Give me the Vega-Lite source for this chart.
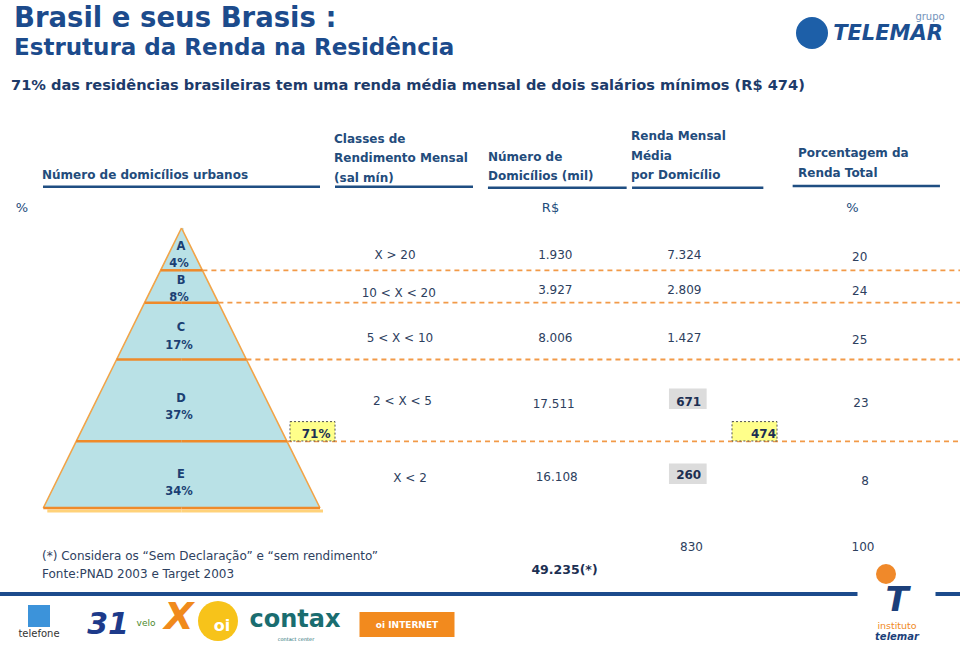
{
  "$schema": "https://vega.github.io/schema/vega-lite/v6.json",
  "width": 960,
  "height": 645,
  "padding": 0,
  "autosize": {"type": "none"},
  "background": "#ffffff",
  "config": {"view": {"stroke": null}},
  "resolve": {"scale": {"x": "independent", "y": "independent", "size": "independent", "color": "independent", "shape": "independent"}},
  "datasets": {
    "classes": [
      {"ordem": 1, "classe": "A", "domicilios_pct": "4%", "faixa": "X > 20", "domicilios": "1.930", "renda": "7.324", "renda_pct": 20},
      {"ordem": 2, "classe": "B", "domicilios_pct": "8%", "faixa": "10 < X < 20", "domicilios": "3.927", "renda": "2.809", "renda_pct": 24},
      {"ordem": 3, "classe": "C", "domicilios_pct": "17%", "faixa": "5 < X < 10", "domicilios": "8.006", "renda": "1.427", "renda_pct": 25},
      {"ordem": 4, "classe": "D", "domicilios_pct": "37%", "faixa": "2 < X < 5", "domicilios": "17.511", "renda": "671", "renda_pct": 23},
      {"ordem": 5, "classe": "E", "domicilios_pct": "34%", "faixa": "X < 2", "domicilios": "16.108", "renda": "260", "renda_pct": 8},
      {"ordem": 6, "classe": "Total", "domicilios_pct": null, "faixa": null, "domicilios": "49.235(*)", "renda": "830", "renda_pct": 100}
    ],
    "bordas": [
      {"borda": 0, "nome": "topo"},
      {"borda": 1, "nome": "A/B"},
      {"borda": 2, "nome": "B/C"},
      {"borda": 3, "nome": "C/D"},
      {"borda": 4, "nome": "D/E"},
      {"borda": 5, "nome": "base"}
    ],
    "destaques": [
      {"indice": 1, "rotulo": "71%", "referencia": "domicílios D + E"},
      {"indice": 2, "rotulo": "474", "referencia": "2 salários mínimos (R$)"}
    ],
    "titulos": [
      {"linha": 1, "texto": "Brasil e seus Brasis :"},
      {"linha": 2, "texto": "Estrutura da Renda na Residência"},
      {"linha": 3, "texto": "71% das residências brasileiras tem uma renda média mensal de dois salários mínimos (R$ 474)"}
    ],
    "cabecalhos": [
      {"coluna": 1, "titulo": "Número de domicílios urbanos"},
      {"coluna": 2, "titulo": "Classes de\nRendimento Mensal\n(sal mín)"},
      {"coluna": 3, "titulo": "Número de\nDomicílios (mil)"},
      {"coluna": 4, "titulo": "Renda Mensal\nMédia\npor Domicílio"},
      {"coluna": 5, "titulo": "Porcentagem da\n Renda Total"}
    ],
    "unidades": [
      {"coluna": 1, "unidade": "%"},
      {"coluna": 3, "unidade": "R$"},
      {"coluna": 5, "unidade": "%"}
    ],
    "notas": [
      {"linha": 1, "texto": "(*) Considera os “Sem Declaração” e “sem rendimento”"},
      {"linha": 2, "texto": "Fonte:PNAD 2003 e Target 2003"}
    ],
    "formas": [
      {"id": 1, "forma": "circulo", "logo": "grupo Telemar"},
      {"id": 2, "forma": "quadrado", "logo": "telefone telemar"},
      {"id": 3, "forma": "circulo", "logo": "oi"},
      {"id": 4, "forma": "retangulo", "logo": "oi internet"},
      {"id": 5, "forma": "faixa", "logo": "instituto telemar (fundo)"},
      {"id": 6, "forma": "circulo", "logo": "instituto telemar"}
    ],
    "marcas_italico": [
      {"id": 1, "texto": "TELEMAR"},
      {"id": 2, "texto": "31"},
      {"id": 3, "texto": "X"},
      {"id": 4, "texto": "telemar"},
      {"id": 5, "texto": "T"}
    ],
    "marcas_negrito": [
      {"id": 1, "texto": "contax"},
      {"id": 2, "texto": "oi"},
      {"id": 3, "texto": "oi INTERNET"}
    ],
    "marcas_normal": [
      {"id": 1, "texto": "grupo"},
      {"id": 2, "texto": "telefone"},
      {"id": 3, "texto": "velo"},
      {"id": 4, "texto": "instituto"},
      {"id": 5, "texto": "contact center"}
    ]
  },
  "layer": [
    {
      "data": {"name": "bordas"},
      "transform": [{"filter": "datum.borda >= 1 && datum.borda <= 4"}],
      "mark": {"type": "rule", "color": "#f29a48", "strokeWidth": 1.8, "strokeDash": [5, 4]},
      "encoding": {
        "x": {"field": "borda", "type": "quantitative", "axis": null, "scale": {"domain": [0, 1, 2, 3, 4, 5], "range": [181.5, 202.4, 218.4, 246.4, 287, 320], "nice": false, "zero": false}},
        "x2": {"value": "width"},
        "y": {"field": "borda", "type": "quantitative", "axis": null, "scale": {"domain": [0, 1, 2, 3, 4, 5], "range": [228, 270.3, 302.7, 359.5, 441.3, 508], "nice": false, "zero": false}}
      }
    },
    {
      "data": {"name": "bordas"},
      "transform": [{"filter": "datum.borda == 5"}],
      "mark": {"type": "rule", "color": "#ffd27a", "strokeWidth": 3, "yOffset": 3, "xOffset": 4},
      "encoding": {
        "x": {"field": "borda", "type": "quantitative", "axis": null, "scale": {"domain": [0, 1, 2, 3, 4, 5], "range": [181.5, 160.6, 144.6, 116.6, 76.2, 43.3], "nice": false, "zero": false}},
        "x2": {"datum": 0},
        "y": {"field": "borda", "type": "quantitative", "axis": null, "scale": {"domain": [0, 1, 2, 3, 4, 5], "range": [228, 270.3, 302.7, 359.5, 441.3, 508], "nice": false, "zero": false}}
      }
    },
    {
      "data": {"name": "bordas"},
      "transform": [{"filter": "datum.borda == 5"}],
      "mark": {"type": "rule", "color": "#ffd27a", "strokeWidth": 3, "yOffset": 3, "xOffset": 3},
      "encoding": {
        "x": {"field": "borda", "type": "quantitative", "axis": null, "scale": {"domain": [0, 1, 2, 3, 4, 5], "range": [181.5, 202.4, 218.4, 246.4, 287, 320], "nice": false, "zero": false}},
        "x2": {"datum": 0},
        "y": {"field": "borda", "type": "quantitative", "axis": null, "scale": {"domain": [0, 1, 2, 3, 4, 5], "range": [228, 270.3, 302.7, 359.5, 441.3, 508], "nice": false, "zero": false}}
      }
    },
    {
      "data": {"name": "bordas"},
      "mark": {"type": "area", "orient": "horizontal", "color": "#b9e1e6", "opacity": 1},
      "encoding": {
        "y": {"field": "borda", "type": "quantitative", "axis": null, "scale": {"domain": [0, 1, 2, 3, 4, 5], "range": [228, 270.3, 302.7, 359.5, 441.3, 508], "nice": false, "zero": false}},
        "x": {"field": "borda", "type": "quantitative", "stack": null, "axis": null, "scale": {"domain": [0, 1, 2, 3, 4, 5], "range": [181.5, 160.6, 144.6, 116.6, 76.2, 43.3], "nice": false, "zero": false}},
        "x2": {"datum": -0.1}
      }
    },
    {
      "data": {"name": "bordas"},
      "mark": {"type": "area", "orient": "horizontal", "color": "#b9e1e6", "opacity": 1},
      "encoding": {
        "y": {"field": "borda", "type": "quantitative", "axis": null, "scale": {"domain": [0, 1, 2, 3, 4, 5], "range": [228, 270.3, 302.7, 359.5, 441.3, 508], "nice": false, "zero": false}},
        "x": {"field": "borda", "type": "quantitative", "stack": null, "axis": null, "scale": {"domain": [0, 1, 2, 3, 4, 5], "range": [181.5, 202.4, 218.4, 246.4, 287, 320], "nice": false, "zero": false}},
        "x2": {"datum": 0}
      }
    },
    {
      "data": {"name": "bordas"},
      "mark": {"type": "line", "color": "#f2a448", "strokeWidth": 1.6},
      "encoding": {
        "x": {"field": "borda", "type": "quantitative", "axis": null, "scale": {"domain": [0, 1, 2, 3, 4, 5], "range": [181.5, 160.6, 144.6, 116.6, 76.2, 43.3], "nice": false, "zero": false}},
        "y": {"field": "borda", "type": "quantitative", "axis": null, "scale": {"domain": [0, 1, 2, 3, 4, 5], "range": [228, 270.3, 302.7, 359.5, 441.3, 508], "nice": false, "zero": false}},
        "order": {"field": "borda", "type": "quantitative"}
      }
    },
    {
      "data": {"name": "bordas"},
      "mark": {"type": "line", "color": "#f2a448", "strokeWidth": 1.6},
      "encoding": {
        "x": {"field": "borda", "type": "quantitative", "axis": null, "scale": {"domain": [0, 1, 2, 3, 4, 5], "range": [181.5, 202.4, 218.4, 246.4, 287, 320], "nice": false, "zero": false}},
        "y": {"field": "borda", "type": "quantitative", "axis": null, "scale": {"domain": [0, 1, 2, 3, 4, 5], "range": [228, 270.3, 302.7, 359.5, 441.3, 508], "nice": false, "zero": false}},
        "order": {"field": "borda", "type": "quantitative"}
      }
    },
    {
      "data": {"name": "bordas"},
      "transform": [{"filter": "datum.borda >= 1"}],
      "mark": {"type": "rule", "color": "#ef8a2a", "strokeWidth": 2.5},
      "encoding": {
        "x": {"field": "borda", "type": "quantitative", "axis": null, "scale": {"domain": [0, 1, 2, 3, 4, 5], "range": [181.5, 160.6, 144.6, 116.6, 76.2, 43.3], "nice": false, "zero": false}},
        "x2": {"datum": 0},
        "y": {"field": "borda", "type": "quantitative", "axis": null, "scale": {"domain": [0, 1, 2, 3, 4, 5], "range": [228, 270.3, 302.7, 359.5, 441.3, 508], "nice": false, "zero": false}}
      }
    },
    {
      "data": {"name": "bordas"},
      "transform": [{"filter": "datum.borda >= 1"}],
      "mark": {"type": "rule", "color": "#ef8a2a", "strokeWidth": 2.5},
      "encoding": {
        "x": {"field": "borda", "type": "quantitative", "axis": null, "scale": {"domain": [0, 1, 2, 3, 4, 5], "range": [181.5, 202.4, 218.4, 246.4, 287, 320], "nice": false, "zero": false}},
        "x2": {"datum": 0},
        "y": {"field": "borda", "type": "quantitative", "axis": null, "scale": {"domain": [0, 1, 2, 3, 4, 5], "range": [228, 270.3, 302.7, 359.5, 441.3, 508], "nice": false, "zero": false}}
      }
    },
    {
      "data": {"name": "classes"},
      "transform": [{"filter": "datum.ordem <= 5"}],
      "mark": {"type": "text", "font": "DejaVu Sans", "fontWeight": "bold", "fontSize": 11.5, "color": "#1b3f73", "align": "center", "baseline": "middle"},
      "encoding": {
        "x": {"field": "ordem", "type": "quantitative", "axis": null, "scale": {"domain": [1, 5], "range": [181, 181], "nice": false, "zero": false}},
        "y": {"field": "ordem", "type": "quantitative", "axis": null, "scale": {"domain": [1, 2, 3, 4, 5], "range": [247.3, 281.1, 328.3, 398.8, 475.3], "nice": false, "zero": false}},
        "text": {"field": "classe", "type": "nominal"}
      }
    },
    {
      "data": {"name": "classes"},
      "transform": [{"filter": "datum.ordem <= 5"}],
      "mark": {"type": "text", "font": "DejaVu Sans", "fontWeight": "bold", "fontSize": 11.5, "color": "#1b3f73", "align": "center", "baseline": "middle"},
      "encoding": {
        "x": {"field": "ordem", "type": "quantitative", "axis": null, "scale": {"domain": [1, 5], "range": [179, 179], "nice": false, "zero": false}},
        "y": {"field": "ordem", "type": "quantitative", "axis": null, "scale": {"domain": [1, 2, 3, 4, 5], "range": [264.3, 298.1, 345.5, 416.1, 492.1], "nice": false, "zero": false}},
        "text": {"field": "domicilios_pct", "type": "nominal"}
      }
    },
    {
      "data": {"name": "destaques"},
      "mark": {"type": "point", "shape": "M-1,-0.43L1,-0.43L1,0.43L-1,0.43Z", "size": 2025, "filled": true, "fill": "#ffff8a", "stroke": "#505050", "strokeWidth": 1, "strokeDash": [2, 2], "opacity": 1},
      "encoding": {
        "x": {"field": "indice", "type": "quantitative", "axis": null, "scale": {"domain": [1, 2], "range": [312.5, 754.5], "nice": false, "zero": false}},
        "y": {"field": "indice", "type": "quantitative", "axis": null, "scale": {"domain": [1, 2], "range": [431.3, 431.3], "nice": false, "zero": false}}
      }
    },
    {
      "data": {"name": "destaques"},
      "mark": {"type": "text", "font": "DejaVu Sans", "fontWeight": "bold", "fontSize": 12, "color": "#1c2f52", "align": "right", "baseline": "middle"},
      "encoding": {
        "x": {"field": "indice", "type": "quantitative", "axis": null, "scale": {"domain": [1, 2], "range": [330.5, 776], "nice": false, "zero": false}},
        "y": {"field": "indice", "type": "quantitative", "axis": null, "scale": {"domain": [1, 2], "range": [434, 434], "nice": false, "zero": false}},
        "text": {"field": "rotulo", "type": "nominal"}
      }
    },
    {
      "data": {"name": "classes"},
      "transform": [{"filter": "datum.ordem >= 4 && datum.ordem <= 5"}],
      "mark": {"type": "point", "shape": "M-1,-0.54L1,-0.54L1,0.54L-1,0.54Z", "size": 1421, "filled": true, "fill": "#dcdcdc", "strokeWidth": 0, "opacity": 1},
      "encoding": {
        "x": {"field": "ordem", "type": "quantitative", "axis": null, "scale": {"domain": [4, 5], "range": [687.8, 687.8], "nice": false, "zero": false}},
        "y": {"field": "ordem", "type": "quantitative", "axis": null, "scale": {"domain": [4, 5], "range": [398.8, 473.7], "nice": false, "zero": false}}
      }
    },
    {
      "data": {"name": "classes"},
      "transform": [{"filter": "isValid(datum.faixa)"}],
      "mark": {"type": "text", "font": "DejaVu Sans", "fontSize": 12, "color": "#2d405e", "align": "center", "baseline": "middle"},
      "encoding": {
        "x": {"field": "ordem", "type": "quantitative", "axis": null, "scale": {"domain": [1, 2, 3, 4, 5], "range": [395, 398.7, 400, 402.5, 410], "nice": false, "zero": false}},
        "y": {"field": "ordem", "type": "quantitative", "axis": null, "scale": {"domain": [1, 2, 3, 4, 5], "range": [254.5, 292.5, 338.3, 401.3, 478.3], "nice": false, "zero": false}},
        "text": {"field": "faixa", "type": "nominal"}
      }
    },
    {
      "data": {"name": "classes"},
      "transform": [{"filter": "datum.ordem <= 5"}],
      "mark": {"type": "text", "font": "DejaVu Sans", "fontSize": 12, "color": "#2d405e", "align": "center", "baseline": "middle"},
      "encoding": {
        "x": {"field": "ordem", "type": "quantitative", "axis": null, "scale": {"domain": [1, 2, 3, 4, 5], "range": [555.3, 555.3, 555.3, 553.7, 556.7], "nice": false, "zero": false}},
        "y": {"field": "ordem", "type": "quantitative", "axis": null, "scale": {"domain": [1, 2, 3, 4, 5], "range": [254.6, 289.5, 338.3, 404.1, 476.8], "nice": false, "zero": false}},
        "text": {"field": "domicilios", "type": "nominal"}
      }
    },
    {
      "data": {"name": "classes"},
      "transform": [{"filter": "datum.ordem == 6"}],
      "mark": {"type": "text", "font": "DejaVu Sans", "fontWeight": "bold", "fontSize": 12.5, "color": "#1c2f52", "align": "center", "baseline": "middle"},
      "encoding": {
        "x": {"field": "ordem", "type": "quantitative", "axis": null, "scale": {"domain": [5, 6], "range": [564.5, 564.5], "nice": false, "zero": false}},
        "y": {"field": "ordem", "type": "quantitative", "axis": null, "scale": {"domain": [5, 6], "range": [570, 570], "nice": false, "zero": false}},
        "text": {"field": "domicilios", "type": "nominal"}
      }
    },
    {
      "data": {"name": "classes"},
      "transform": [{"filter": "datum.ordem <= 3 || datum.ordem == 6"}],
      "mark": {"type": "text", "font": "DejaVu Sans", "fontSize": 12, "color": "#2d405e", "align": "center", "baseline": "middle"},
      "encoding": {
        "x": {"field": "ordem", "type": "quantitative", "axis": null, "scale": {"domain": [1, 2, 3, 6], "range": [684.3, 684.3, 684.3, 691.5], "nice": false, "zero": false}},
        "y": {"field": "ordem", "type": "quantitative", "axis": null, "scale": {"domain": [1, 2, 3, 6], "range": [254.5, 289.5, 338.3, 547], "nice": false, "zero": false}},
        "text": {"field": "renda", "type": "nominal"}
      }
    },
    {
      "data": {"name": "classes"},
      "transform": [{"filter": "datum.ordem >= 4 && datum.ordem <= 5"}],
      "mark": {"type": "text", "font": "DejaVu Sans", "fontWeight": "bold", "fontSize": 12, "color": "#1c2f52", "align": "center", "baseline": "middle"},
      "encoding": {
        "x": {"field": "ordem", "type": "quantitative", "axis": null, "scale": {"domain": [4, 5], "range": [688.7, 688.7], "nice": false, "zero": false}},
        "y": {"field": "ordem", "type": "quantitative", "axis": null, "scale": {"domain": [4, 5], "range": [401.5, 475.1], "nice": false, "zero": false}},
        "text": {"field": "renda", "type": "nominal"}
      }
    },
    {
      "data": {"name": "classes"},
      "mark": {"type": "text", "font": "DejaVu Sans", "fontSize": 12, "color": "#2d405e", "align": "center", "baseline": "middle"},
      "encoding": {
        "x": {"field": "ordem", "type": "quantitative", "axis": null, "scale": {"domain": [1, 2, 3, 4, 5, 6], "range": [859.7, 859.7, 859.7, 861, 865, 863], "nice": false, "zero": false}},
        "y": {"field": "ordem", "type": "quantitative", "axis": null, "scale": {"domain": [1, 2, 3, 4, 5, 6], "range": [256.5, 290.8, 339.5, 403.1, 481.3, 547], "nice": false, "zero": false}},
        "text": {"field": "renda_pct", "type": "quantitative"}
      }
    },
    {
      "data": {"name": "titulos"},
      "mark": {"type": "text", "font": "DejaVu Sans", "fontWeight": "bold", "align": "left", "baseline": "alphabetic"},
      "encoding": {
        "x": {"field": "linha", "type": "quantitative", "axis": null, "scale": {"domain": [1, 2, 3], "range": [14, 14, 11], "nice": false, "zero": false}},
        "y": {"field": "linha", "type": "quantitative", "axis": null, "scale": {"domain": [1, 2, 3], "range": [26.5, 54.5, 90], "nice": false, "zero": false}},
        "size": {"field": "linha", "type": "quantitative", "legend": null, "scale": {"domain": [1, 2, 3], "range": [27.5, 23, 14.6], "nice": false, "zero": false}},
        "color": {"field": "linha", "type": "nominal", "legend": null, "scale": {"domain": [1, 2, 3], "range": ["#1c4b8c", "#1c4b8c", "#1d3b6a"]}},
        "text": {"field": "texto", "type": "nominal"}
      }
    },
    {
      "data": {"name": "cabecalhos"},
      "mark": {"type": "text", "font": "DejaVu Sans", "fontWeight": "bold", "fontSize": 12, "color": "#234c7c", "align": "left", "baseline": "top", "lineBreak": "\n", "lineHeight": 19.5},
      "encoding": {
        "x": {"field": "coluna", "type": "quantitative", "axis": null, "scale": {"domain": [1, 2, 3, 4, 5], "range": [42, 334, 488, 631, 798], "nice": false, "zero": false}},
        "y": {"field": "coluna", "type": "quantitative", "axis": null, "scale": {"domain": [1, 2, 3, 4, 5], "range": [170.3, 133.6, 151.6, 131, 148.3], "nice": false, "zero": false}},
        "text": {"field": "titulo", "type": "nominal"}
      }
    },
    {
      "data": {"name": "cabecalhos"},
      "mark": {"type": "tick", "orient": "horizontal", "thickness": 2.5, "color": "#1f4e82", "opacity": 1},
      "encoding": {
        "x": {"field": "coluna", "type": "quantitative", "axis": null, "scale": {"domain": [1, 2, 3, 4, 5], "range": [181.5, 404, 557.3, 697.7, 866.3], "nice": false, "zero": false}},
        "y": {"field": "coluna", "type": "quantitative", "axis": null, "scale": {"domain": [1, 2, 3, 4, 5], "range": [186.7, 186.7, 187.7, 187.7, 186], "nice": false, "zero": false}},
        "size": {"field": "coluna", "type": "quantitative", "legend": null, "scale": {"domain": [1, 2, 3, 4, 5], "range": [277, 138, 138.7, 131.3, 147.3], "nice": false, "zero": false}}
      }
    },
    {
      "data": {"name": "unidades"},
      "mark": {"type": "text", "font": "DejaVu Sans", "fontSize": 13, "color": "#234c7c", "align": "center", "baseline": "middle"},
      "encoding": {
        "x": {"field": "coluna", "type": "quantitative", "axis": null, "scale": {"domain": [1, 3, 5], "range": [22, 550.5, 852.5], "nice": false, "zero": false}},
        "y": {"field": "coluna", "type": "quantitative", "axis": null, "scale": {"domain": [1, 3, 5], "range": [208, 208, 208], "nice": false, "zero": false}},
        "text": {"field": "unidade", "type": "nominal"}
      }
    },
    {
      "data": {"name": "notas"},
      "mark": {"type": "text", "font": "DejaVu Sans", "fontSize": 12, "color": "#2e4160", "align": "left", "baseline": "middle"},
      "encoding": {
        "x": {"field": "linha", "type": "quantitative", "axis": null, "scale": {"domain": [1, 2], "range": [42, 42], "nice": false, "zero": false}},
        "y": {"field": "linha", "type": "quantitative", "axis": null, "scale": {"domain": [1, 2], "range": [556, 574], "nice": false, "zero": false}},
        "text": {"field": "texto", "type": "nominal"}
      }
    },
    {
      "data": {"values": [{"elemento": "linha do rodapé"}]},
      "mark": {"type": "rule", "color": "#1c4b8c", "strokeWidth": 4},
      "encoding": {
        "y": {"datum": 3, "type": "quantitative", "axis": null, "scale": {"domain": [1, 2, 3], "range": [556, 574, 594], "nice": false, "zero": false}}
      }
    },
    {
      "data": {"name": "formas"},
      "mark": {"type": "point", "filled": true, "opacity": 1, "strokeWidth": 0},
      "encoding": {
        "x": {"field": "id", "type": "quantitative", "axis": null, "scale": {"domain": [1, 2, 3, 4, 5, 6], "range": [812, 39, 218, 407, 896.5, 886], "nice": false, "zero": false}},
        "y": {"field": "id", "type": "quantitative", "axis": null, "scale": {"domain": [1, 2, 3, 4, 5, 6], "range": [33, 616, 621, 624.5, 594, 574], "nice": false, "zero": false}},
        "size": {"field": "id", "type": "quantitative", "legend": null, "scale": {"domain": [1, 2, 3, 4, 5, 6], "range": [1024, 484, 1600, 9025, 6084, 400], "nice": false, "zero": false}},
        "shape": {"field": "forma", "type": "nominal", "legend": null, "scale": {"domain": ["circulo", "quadrado", "retangulo", "faixa"], "range": ["circle", "square", "M-1,-0.263L1,-0.263L1,0.263L-1,0.263Z", "M-1,-0.13L1,-0.13L1,0.13L-1,0.13Z"]}},
        "color": {"field": "id", "type": "nominal", "legend": null, "scale": {"domain": [1, 2, 3, 4, 5, 6], "range": ["#1d5fa8", "#3c93da", "#f7c31a", "#f28a1e", "#ffffff", "#f0892a"]}}
      }
    },
    {
      "data": {"name": "marcas_italico"},
      "mark": {"type": "text", "font": "DejaVu Sans", "fontWeight": "bold", "fontStyle": "italic", "align": "center", "baseline": "middle"},
      "encoding": {
        "x": {"field": "id", "type": "quantitative", "axis": null, "scale": {"domain": [1, 2, 3, 4, 5], "range": [888, 108, 179, 897, 897], "nice": false, "zero": false}},
        "y": {"field": "id", "type": "quantitative", "axis": null, "scale": {"domain": [1, 2, 3, 4, 5], "range": [34, 625, 618, 637, 601], "nice": false, "zero": false}},
        "size": {"field": "id", "type": "quantitative", "legend": null, "scale": {"domain": [1, 2, 3, 4, 5], "range": [21, 30, 38, 10, 34], "nice": false, "zero": false}},
        "color": {"field": "id", "type": "nominal", "legend": null, "scale": {"domain": [1, 2, 3, 4, 5], "range": ["#1c4f91", "#1d3a8a", "#f08a1c", "#1c3f7a", "#1c3f7a"]}},
        "text": {"field": "texto", "type": "nominal"}
      }
    },
    {
      "data": {"name": "marcas_negrito"},
      "mark": {"type": "text", "font": "DejaVu Sans", "fontWeight": "bold", "align": "center", "baseline": "middle"},
      "encoding": {
        "x": {"field": "id", "type": "quantitative", "axis": null, "scale": {"domain": [1, 2, 3], "range": [295, 222, 407], "nice": false, "zero": false}},
        "y": {"field": "id", "type": "quantitative", "axis": null, "scale": {"domain": [1, 2, 3], "range": [620, 626, 625], "nice": false, "zero": false}},
        "size": {"field": "id", "type": "quantitative", "legend": null, "scale": {"domain": [1, 2, 3], "range": [24, 16, 9], "nice": false, "zero": false}},
        "color": {"field": "id", "type": "nominal", "legend": null, "scale": {"domain": [1, 2, 3], "range": ["#1a6d70", "#ffffff", "#ffffff"]}},
        "text": {"field": "texto", "type": "nominal"}
      }
    },
    {
      "data": {"name": "marcas_normal"},
      "mark": {"type": "text", "font": "DejaVu Sans", "align": "center", "baseline": "middle"},
      "encoding": {
        "x": {"field": "id", "type": "quantitative", "axis": null, "scale": {"domain": [1, 2, 3, 4, 5], "range": [930, 39, 146, 897, 296], "nice": false, "zero": false}},
        "y": {"field": "id", "type": "quantitative", "axis": null, "scale": {"domain": [1, 2, 3, 4, 5], "range": [17, 634, 623, 626, 639], "nice": false, "zero": false}},
        "size": {"field": "id", "type": "quantitative", "legend": null, "scale": {"domain": [1, 2, 3, 4, 5], "range": [10, 10, 9, 9.5, 5], "nice": false, "zero": false}},
        "color": {"field": "id", "type": "nominal", "legend": null, "scale": {"domain": [1, 2, 3, 4, 5], "range": ["#7393bb", "#333333", "#4d8a2c", "#f08a24", "#1a6d70"]}},
        "text": {"field": "texto", "type": "nominal"}
      }
    }
  ]
}
